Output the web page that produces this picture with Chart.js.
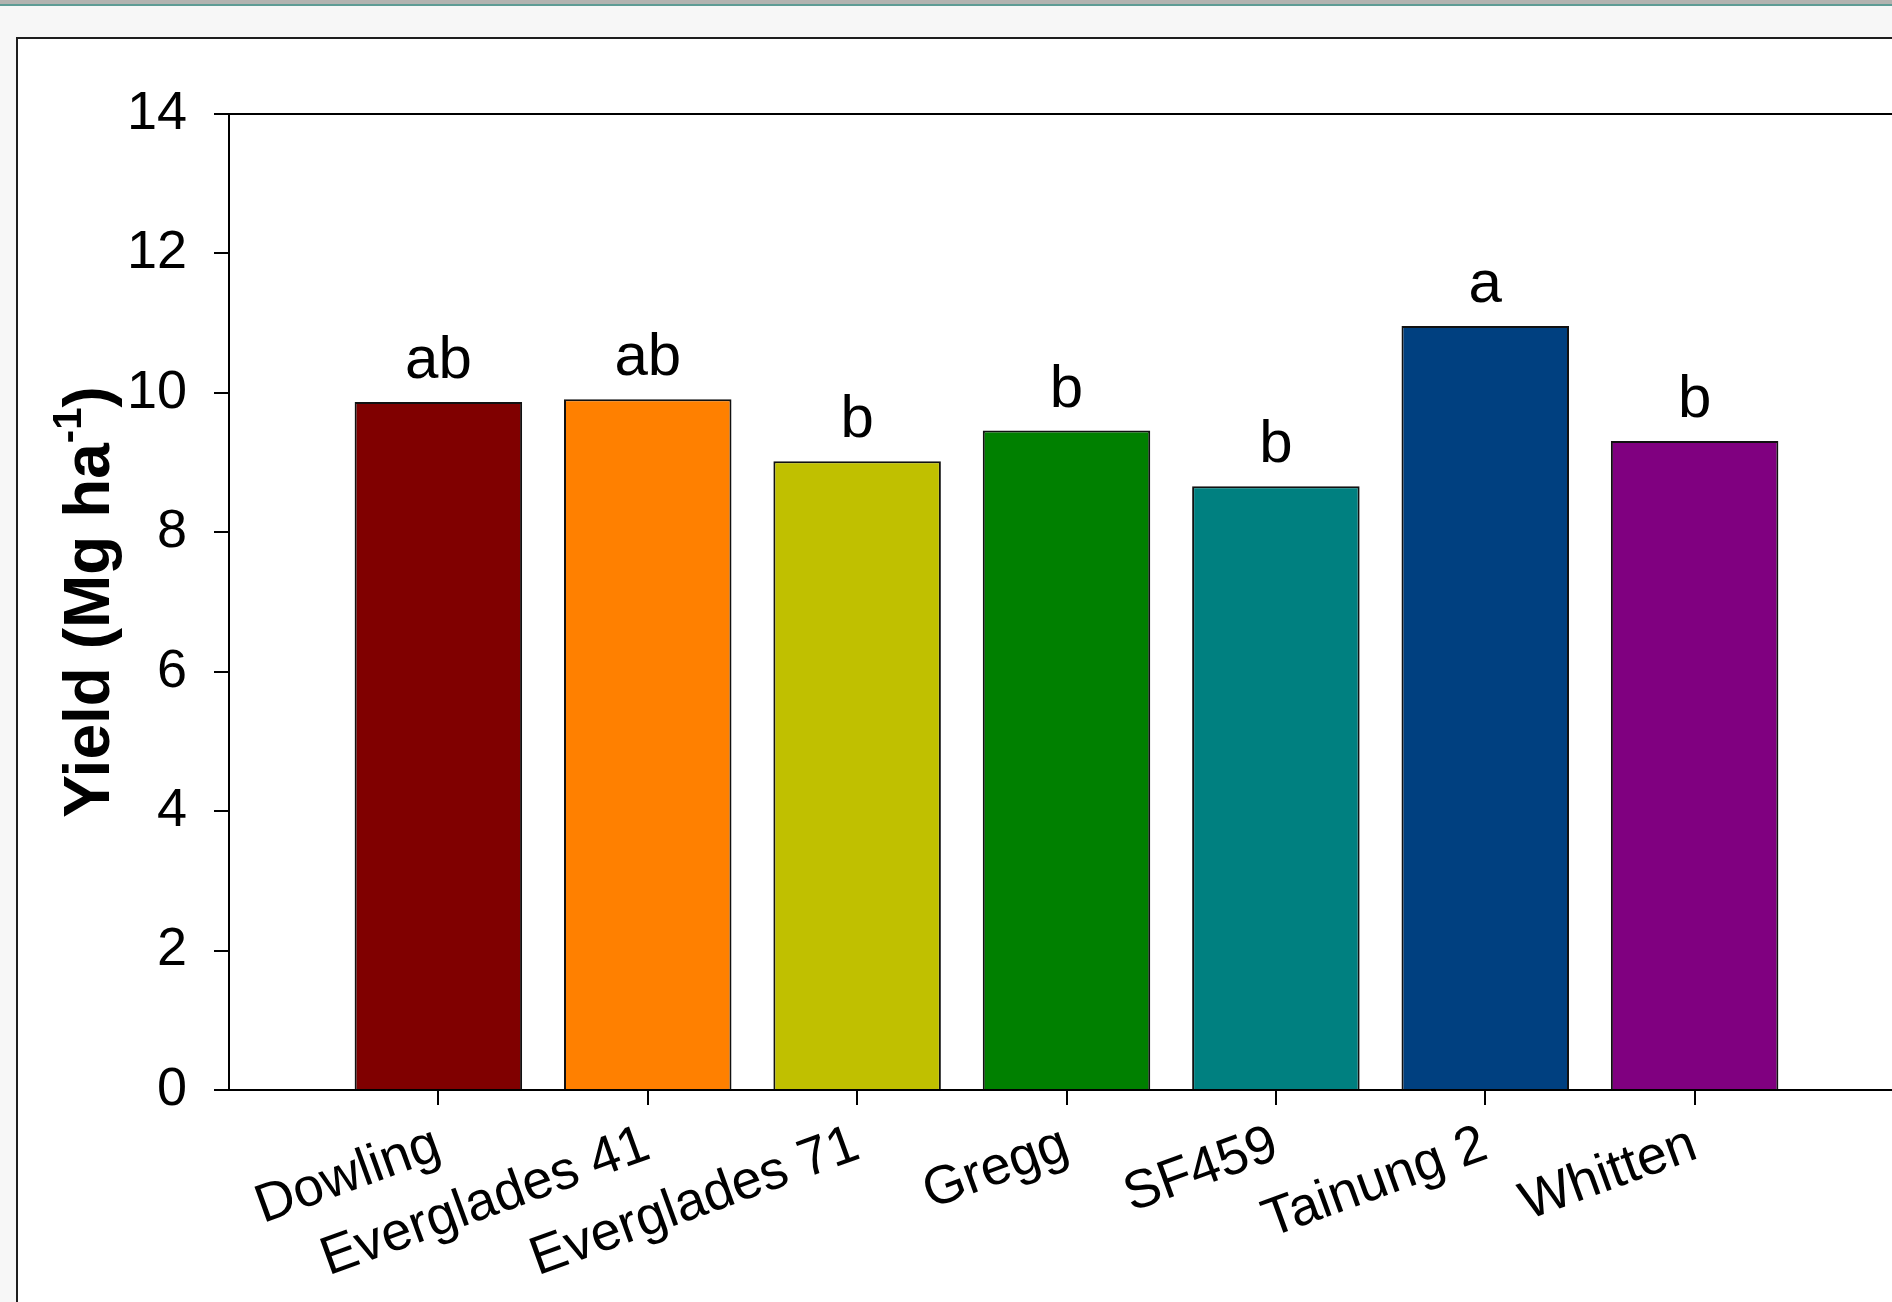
<!DOCTYPE html>
<html>
<head>
<meta charset="utf-8">
<title>Yield by cultivar</title>
<script src="https://cdn.jsdelivr.net/npm/chart.js@4.4.1/dist/chart.umd.min.js"></script>
<style>
  html, body { margin: 0; padding: 0; width: 1892px; height: 1302px; overflow: hidden; background: #f7f7f7; }
  #strip { position: absolute; left: 0; top: 0; width: 100%; height: 4px; background: #b2b3b0; border-bottom: 2px solid #5e9c95; }
  #frame { position: absolute; left: 16px; top: 37px; width: 1960px; height: 1400px; background: #fff; border: 2px solid #1e1e1e; }
  #chart { position: absolute; left: 0; top: 0; }
</style>
</head>
<body>
<div id="strip"></div>
<div id="frame"></div>
<canvas id="chart" width="1920" height="1302"></canvas>
<script>
// Cultivars and mean yield (Mg ha-1) with mean-separation letters
const cultivars = ['Dowling', 'Everglades 41', 'Everglades 71', 'Gregg', 'SF459', 'Tainung 2', 'Whitten'];
const yieldMgHa = [9.87, 9.91, 9.02, 9.46, 8.66, 10.96, 9.31];
const groupLetters = ['ab', 'ab', 'b', 'b', 'b', 'a', 'b'];
const yTicks = [0, 2, 4, 6, 8, 10, 12, 14];

const barColors = ['#800000', '#ff8000', '#c0c000', '#008000', '#008080', '#004080', '#800080'];
const FONT = '"Liberation Sans", Arial, Helvetica, sans-serif';

// Letters above each bar
const letterPlugin = {
  id: 'groupLetters',
  afterDatasetsDraw(chart) {
    const ctx = chart.ctx;
    const meta = chart.getDatasetMeta(0);
    ctx.save();
    ctx.font = '60px ' + FONT;
    ctx.fillStyle = '#000';
    ctx.textAlign = 'center';
    ctx.textBaseline = 'alphabetic';
    meta.data.forEach((bar, i) => {
      ctx.fillText(groupLetters[i], bar.x, bar.y - 24);
    });
    ctx.restore();
  }
};

// Top edge of the plot frame
const frameTop = {
  id: 'frameTop',
  afterDraw(chart) {
    const { ctx, chartArea: a } = chart;
    ctx.save();
    ctx.strokeStyle = '#000';
    ctx.lineWidth = 2;
    ctx.beginPath();
    ctx.moveTo(a.left, a.top);
    ctx.lineTo(chart.width, a.top);
    ctx.stroke();
    ctx.restore();
  }
};

// Rotated y-axis title with superscript exponent
const yTitle = {
  id: 'yTitle',
  afterDraw(chart) {
    const { ctx, chartArea: a } = chart;
    const big = 'bold 64px ' + FONT;
    const small = 'bold 40px ' + FONT;
    const p1 = 'Yield (Mg ha', sup = '-1', p2 = ')';
    ctx.save();
    ctx.translate(86, (a.top + a.bottom) / 2);
    ctx.rotate(-Math.PI / 2);
    ctx.fillStyle = '#000';
    ctx.textAlign = 'left';
    ctx.textBaseline = 'alphabetic';
    ctx.font = big;
    const w1 = ctx.measureText(p1).width;
    const w3 = ctx.measureText(p2).width;
    ctx.font = small;
    const w2 = ctx.measureText(sup).width;
    const base = 23;
    let x = -(w1 + w2 + w3) / 2;
    ctx.font = big;
    ctx.fillText(p1, x, base);
    x += w1;
    ctx.font = small;
    ctx.fillText(sup, x, base - 28);
    x += w2;
    ctx.font = big;
    ctx.fillText(p2, x, base);
    ctx.restore();
  }
};

new Chart(document.getElementById('chart'), {
  type: 'bar',
  data: {
    datasets: [{
      data: yieldMgHa.map((v, i) => ({ x: i + 1, y: v })),
      backgroundColor: barColors,
      borderColor: '#111',
      borderWidth: 2,
      barPercentage: 1,
      categoryPercentage: 0.8
    }]
  },
  plugins: [letterPlugin, frameTop, yTitle],
  options: {
    responsive: false,
    animation: false,
    devicePixelRatio: 1,
    layout: { padding: { top: 114, right: 16, left: 0, bottom: 0 } },
    plugins: { legend: { display: false }, tooltip: { enabled: false } },
    scales: {
      x: {
        type: 'linear',
        min: 0,
        max: 8,
        offset: false,
        afterBuildTicks: s => { s.ticks = cultivars.map((_, i) => ({ value: i + 1 })); },
        afterFit: s => { s.height = 212; },
        grid: { offset: false, drawOnChartArea: false, drawTicks: true, tickLength: 15, color: '#000', lineWidth: 2 },
        border: { display: true, color: '#000', width: 2 },
        ticks: {
          autoSkip: false,
          minRotation: 20,
          maxRotation: 20,
          padding: 8,
          color: '#000',
          font: { family: FONT, size: 54 },
          callback: v => cultivars[v - 1]
        }
      },
      y: {
        min: 0,
        max: 14,
        afterBuildTicks: s => { s.ticks = yTicks.map(v => ({ value: v })); },
        afterFit: s => { s.width = 229; },
        grid: { drawOnChartArea: false, drawTicks: true, tickLength: 15, color: '#000', lineWidth: 2 },
        border: { display: true, color: '#000', width: 2 },
        ticks: {
          padding: 27,
          color: '#000',
          font: { family: FONT, size: 54 }
        }
      }
    }
  }
});
</script>
</body>
</html>
